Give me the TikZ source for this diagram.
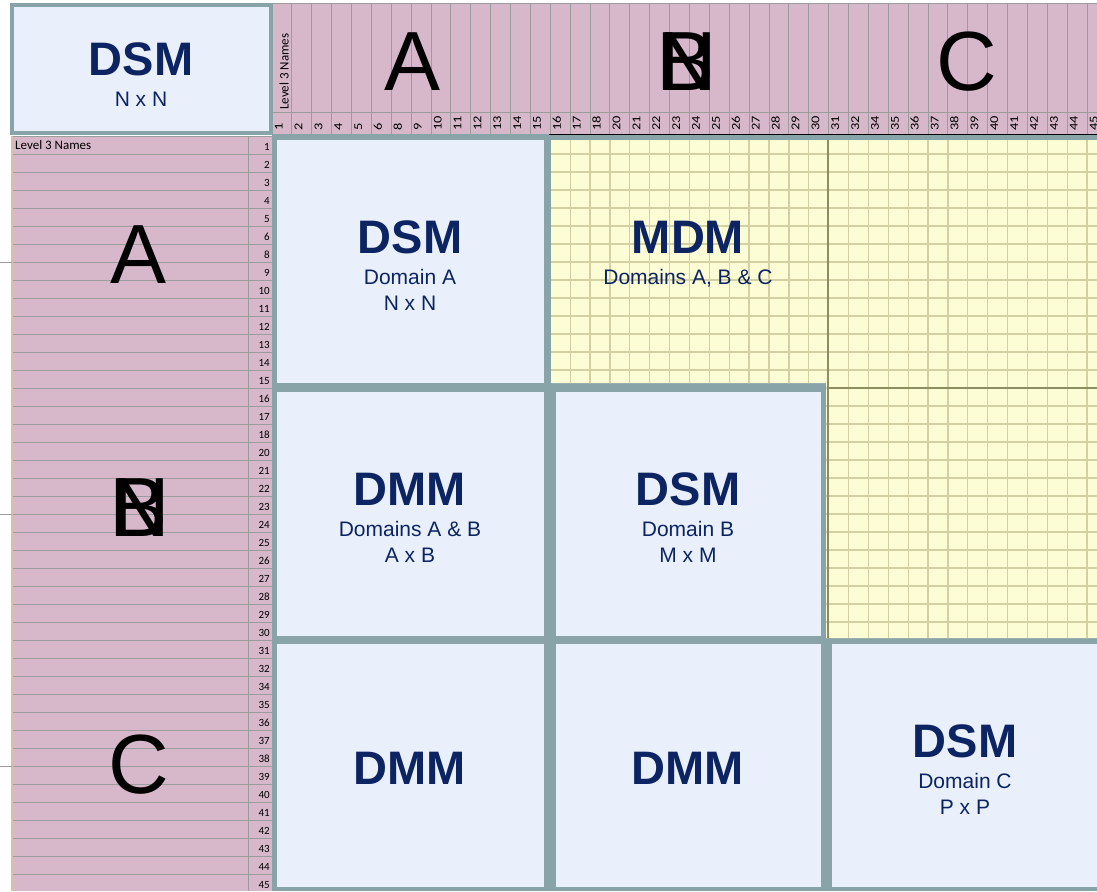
\documentclass[tikz,border=0pt]{standalone}
\usepackage{fontspec}
\setmainfont{Liberation Sans}
\newfontfamily\cellfont{Carlito}
\definecolor{dsmpink}{HTML}{D7B8CB}
\definecolor{dsmteal}{HTML}{88A4A8}
\definecolor{dsmblue}{HTML}{E9EFFB}
\definecolor{dsmyellow}{HTML}{FCFCD5}
\definecolor{dsmgrid}{HTML}{D3D0A4}
\definecolor{dsmolive}{HTML}{8D8D62}
\definecolor{dsmnavy}{HTML}{0C2461}
\definecolor{dsmline}{HTML}{9C9C9C}
\definecolor{dsmtan}{HTML}{D8C0A0}

\begin{document}
\begin{tikzpicture}[x=1pt, y=-1pt,
  cellline/.style={draw=dsmline, line width=1pt},
  gridline/.style={draw=dsmgrid, line width=1.3pt},
  title/.style={anchor=base, inner sep=0pt, text=dsmnavy, font=\fontsize{47}{56}\selectfont\bfseries},
  subtitle/.style={anchor=base, inner sep=0pt, text=dsmnavy, font=\fontsize{21}{25}\selectfont},
  bigletter/.style={anchor=base, inner sep=0pt, font=\fontsize{84}{100}\selectfont},
  cellnum/.style={inner sep=0pt, font=\cellfont\fontsize{11}{13}\selectfont},
  colnum/.style={inner sep=0pt, rotate=90, anchor=base west, font=\cellfont\fontsize{12}{14}\selectfont},
  celltext/.style={inner sep=0pt, font=\cellfont\fontsize{13}{15}\selectfont}
]
\useasboundingbox (0,0) rectangle (1097,891);
\clip (0,0) rectangle (1097,891);

% header row and name column
\fill[dsmpink] (272,4) rectangle (1097,134);
\fill[dsmpink] (12,136) rectangle (272,891);
\foreach \k in {0,...,42}
  \draw[cellline] ({272+19.88*\k},4) -- ({272+19.88*\k},134);
\draw[cellline] (272,4) -- (1097,4);
\draw[cellline] (272,112.5) -- (1097,112.5);
\foreach \j in {0,...,42}
  \draw[cellline] (12,{136+18*\j}) -- (272,{136+18*\j});
\draw[cellline] (248,136) -- (248,891);
\draw[dsmtan, line width=1.5pt] (12,136) -- (12,891);
\foreach \y in {262,514,766}
  \draw[cellline] (0,\y) -- (12,\y);

% element numbers
\foreach \lab [count=\k from 0] in {1,2,3,4,5,6,8,9,10,11,12,13,14,15,16,17,18,20,21,22,23,24,25,26,27,28,29,30,31,32,34,35,36,37,38,39,40,41,42,43,44,45} {
  \node[colnum] (col\lab) at ({272+19.88*\k+10.5},131) {\scalebox{1.2}[1]{\lab}};
  \node[cellnum, anchor=base east] (row\lab) at (270,{136+18*\k+14}) {\lab};
}
\node[celltext, rotate=90, anchor=base west] (colnames) at (288.5,110) {Level 3 Names};
\node[celltext, anchor=base west] (rownames) at (15,149.5) {Level 3 Names};

% domain letters
\node[bigletter] (topA) at (412.5,90) {A};
\node[bigletter] (topB) at (686.7,90) {B};
\node[bigletter] (topN) at (686.7,90) {N};
\node[bigletter] (topC) at (967,90) {C};
\node[bigletter] (leftA) at (138.5,283) {A};
\node[bigletter] (leftB) at (139.5,536) {B};
\node[bigletter] (leftN) at (139.5,536) {N};
\node[bigletter] (leftC) at (138.5,793) {C};

% corner box
\draw[dsmteal, line width=4pt, fill=dsmblue] (12,5.3) rectangle (270.7,133);
\node[title] (cornertitle) at (141,75) {DSM};
\node[subtitle] (cornersize) at (141,106) {N x N};

% matrix
\fill[dsmteal] (272,134) rectangle (1097,891);
\begin{scope}
  \clip (551,140) -- (1097,140) -- (1097,638) -- (826,638) -- (826,383) -- (551,383) -- cycle;
  \fill[dsmyellow] (551,140) rectangle (1097,640);
  \foreach \k in {14,...,42}
    \draw[gridline] ({272+19.88*\k},140) -- ({272+19.88*\k},640);
  \foreach \j in {1,...,28}
    \draw[gridline] (551,{136+18*\j}) -- (1097,{136+18*\j});
\end{scope}
\draw[dsmolive, line width=2pt] (827.8,140) -- (827.8,638);
\draw[dsmolive, line width=2pt] (827.8,388) -- (1097,388);
\draw[black, line width=1.2pt] (549,134.5) -- (1097,134.5);

\fill[dsmblue] (277,140) rectangle (543.5,383);
\fill[dsmblue] (277,391.5) rectangle (543.5,636);
\fill[dsmblue] (555.5,391.5) rectangle (821,636);
\fill[dsmblue] (277,644) rectangle (543.5,887);
\fill[dsmblue] (555.5,644) rectangle (821,887);
\fill[dsmblue] (832,643.5) rectangle (1097,887);

% block labels
\node[title] (dsmA) at (410,253) {DSM};
\node[subtitle] (dsmAdom) at (410,284) {Domain A};
\node[subtitle] (dsmAsize) at (410,310) {N x N};
\node[title] (mdm) at (688,253) {MDM};
\node[subtitle] (mdmdom) at (688,284) {Domains A, B \& C};
\node[title] (dmmAB) at (410,505) {DMM};
\node[subtitle] (dmmABdom) at (410,536) {Domains A \& B};
\node[subtitle] (dmmABsize) at (410,562) {A x B};
\node[title] (dsmB) at (688,505) {DSM};
\node[subtitle] (dsmBdom) at (688,536) {Domain B};
\node[subtitle] (dsmBsize) at (688,562) {M x M};
\node[title] (dmmCA) at (410,784) {DMM};
\node[title] (dmmCB) at (688,784) {DMM};
\node[title] (dsmC) at (965,757) {DSM};
\node[subtitle] (dsmCdom) at (965,788) {Domain C};
\node[subtitle] (dsmCsize) at (965,814) {P x P};
\end{tikzpicture}
\end{document}
